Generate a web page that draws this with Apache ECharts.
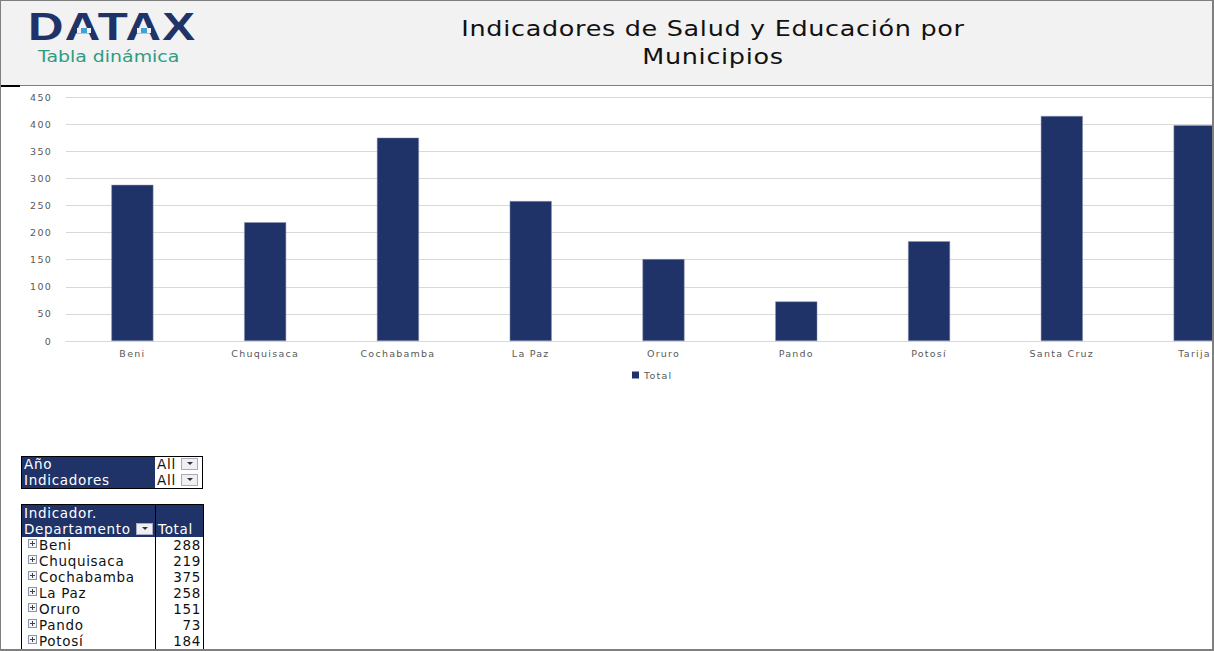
<!DOCTYPE html>
<html>
<head>
<meta charset="utf-8">
<script src="https://cdn.jsdelivr.net/npm/echarts@6/dist/echarts.min.js"></script>
<style>
html, body { margin: 0; padding: 0; background: #fff; overflow: hidden; }
#page { position: relative; width: 1214px; height: 651px; overflow: hidden; font-family: "DejaVu Sans", sans-serif; }
#main { position: absolute; left: 0; top: 0; width: 1214px; height: 651px; }
#main text { letter-spacing: 1.25px; }
#head { position: absolute; left: 0; top: 0; width: 1214px; height: 86px; background: #f2f2f2; }
#frame { position: absolute; left: 0; top: 0; width: 1211px; height: 648px; border: 1px solid #7f7f7f; border-width: 1px 2px 2px 1px; pointer-events: none; }
#headline { position: absolute; left: 0; top: 85px; width: 1214px; height: 1px; background: #7f7f7f; }
#headmark { position: absolute; left: 0; top: 85px; width: 20px; height: 2px; background: #000; }
#logo { position: absolute; left: 28px; top: 5px; font: bold 39px "Liberation Sans", sans-serif; color: #203368; letter-spacing: 1px; transform-origin: 0 0; transform: scaleX(1.26); }
.tick { position: absolute; top: 28px; width: 6px; height: 5px; background: #3fa3d8; box-shadow: 4px 0 0 #f2f2f2, -4px 0 0 #f2f2f2; }
#sub { position: absolute; left: 38px; top: 48px; font-size: 15px; color: #2f9c82; transform-origin: 0 0; transform: scaleX(1.26); }
#title { position: absolute; left: 413px; top: 15px; width: 600px; text-align: center; font-size: 22px; line-height: 28px; color: #111; letter-spacing: 0.6px; transform: scaleX(1.157); }
.pivot { position: absolute; left: 21px; width: 181px; border-collapse: collapse; table-layout: fixed; font-size: 13.5px; letter-spacing: 0.7px; color: #111; }
.pivot td { padding: 0 2px; height: 16px; line-height: 15px; white-space: nowrap; overflow: hidden; }
#filters td { height: 15.5px; }
.pivot .c1 { width: 129px; }
.pivot .c2 { width: 43px; }
.dark { background: #203368; color: #fff; }
.box { border: 1px solid #000; }
.num { text-align: right; }
.drop { display: inline-block; width: 17px; height: 12px; background: #eef0f4; border: 1px solid #aab; box-sizing: border-box; vertical-align: -1px; position: relative; }
.drop:after { content: ""; position: absolute; left: 5px; top: 3px; border: 3px solid transparent; border-top: 3px solid #333; }
.plus { display: inline-block; width: 7px; height: 7px; border: 1px solid #8a94ad; margin: 0 2px 1px 4px; vertical-align: 1px; position: relative; background: #f4f5f9; }
.plus:before { content: ""; position: absolute; left: 1px; top: 3px; width: 5px; height: 1px; background: #444; }
.plus:after { content: ""; position: absolute; left: 3px; top: 1px; width: 1px; height: 5px; background: #444; }
</style>
</head>
<body>
<div id="page">
  <div id="head"></div>
  <div id="headline"></div>
  <div id="headmark"></div>
  <div id="logo">DATAX</div>
  <div class="tick" style="left:81px"></div>
  <div class="tick" style="left:141px"></div>
  <div id="sub">Tabla dinámica</div>
  <div id="title">Indicadores de Salud y Educación por<br>Municipios</div>
  <div id="main"></div>
  <table class="pivot box" id="filters" style="top:456px"></table>
  <table class="pivot box" id="rows" style="top:504px"></table>
  <div id="frame"></div>
</div>
<script>
var departamentos = ['Beni', 'Chuquisaca', 'Cochabamba', 'La Paz', 'Oruro', 'Pando', 'Potosí', 'Santa Cruz', 'Tarija'];
var totales = [288, 219, 375, 258, 151, 73, 184, 415, 398];
var filtros = ['Año', 'Indicadores'];
var yTicks = [0, 50, 100, 150, 200, 250, 300, 350, 400, 450];

// filter box + pivot table under the chart
var filtersHtml = '';
for (var i = 0; i < filtros.length; i++) {
    filtersHtml += '<tr><td class="c1 dark">' + filtros[i] + '</td><td class="c2">All <span class="drop"></span></td></tr>';
}
document.getElementById('filters').innerHTML = filtersHtml;

var rowsHtml = '<tr class="dark"><td class="c1" style="border-right:1px solid #000">Indicador.</td><td class="c2"></td></tr>' +
    '<tr class="dark"><td class="c1" style="border-right:1px solid #000">Departamento <span class="drop"></span></td><td class="c2">Total</td></tr>';
for (var j = 0; j < 7; j++) {
    rowsHtml += '<tr><td class="c1" style="border-right:1px solid #000"><span class="plus"></span>' + departamentos[j] + '</td><td class="c2 num">' + totales[j] + '</td></tr>';
}
document.getElementById('rows').innerHTML = rowsHtml;

// svg renderer so the css letter-spacing reaches the axis text
var myChart = echarts.init(document.getElementById('main'), null, { renderer: 'svg' });
var option = {
    animation: false,
    textStyle: { fontFamily: 'DejaVu Sans' },
    legend: {
        left: 627,
        top: 365,
        itemWidth: 7,
        itemHeight: 7,
        itemGap: 4,
        icon: 'rect',
        itemStyle: { borderWidth: 0 },
        textStyle: { fontSize: 9.5, color: '#595959' },
        data: ['Total']
    },
    grid: { left: 66, top: 97, width: 1195, height: 244, outerBoundsMode: 'none' },
    xAxis: {
        type: 'category',
        data: departamentos,
        axisLine: { lineStyle: { color: '#d9d9d9' } },
        axisTick: { show: false },
        axisLabel: { color: '#595959', fontSize: 9.5, margin: 7, interval: 0 }
    },
    yAxis: {
        type: 'value',
        min: yTicks[0],
        max: yTicks[yTicks.length - 1],
        interval: 50,
        axisLine: { show: false },
        axisTick: { show: false },
        axisLabel: { color: '#595959', fontSize: 9.5, margin: 14 },
        splitLine: { lineStyle: { color: '#d9d9d9' } }
    },
    series: [{
        name: 'Total',
        type: 'bar',
        barWidth: 42,
        data: totales,
        itemStyle: { color: '#203368', borderColor: '#8d97b3', borderWidth: 0.5 }
    }]
};
myChart.setOption(option);
</script>
</body>
</html>
